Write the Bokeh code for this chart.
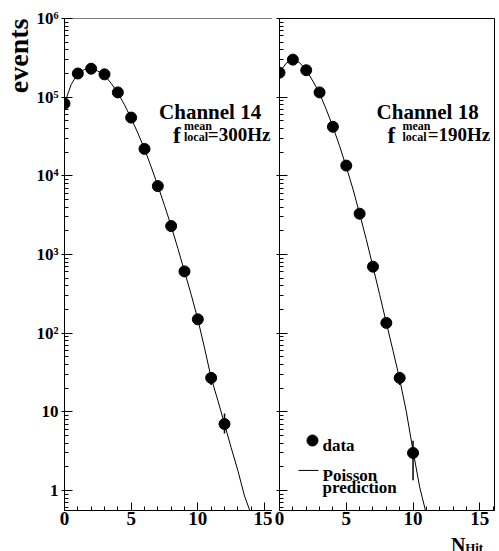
import math
from bokeh.plotting import figure
from bokeh.layouts import row, column
from bokeh.models import Label, FixedTicker, Span, Title
from bokeh.embed import file_html
from bokeh.resources import INLINE

FONT = "Liberation Serif"

# ---- data ----
ch14_nhit = [0, 1, 2, 3, 4, 5, 6, 7, 8, 9, 10, 11, 12]
ch14_events = [8.3e4, 2.0e5, 2.3e5, 1.95e5, 1.15e5, 5.5e4, 2.2e4, 7.4e3, 2.3e3, 610, 150, 27, 7]
ch14_err_x = [11, 12]
ch14_err_lo = [22, 5.3]
ch14_err_hi = [32, 9.5]
ch14_curve_x = [0, 0.5, 1, 1.5, 2, 2.5, 3, 3.5, 4, 4.5, 5, 5.5, 6, 6.5, 7, 7.5, 8, 8.5,
                9, 9.5, 10, 10.5, 11, 11.5, 12, 12.5, 13, 13.5, 14]
ch14_curve_y = [8.3e4, 1.45e5, 2.0e5, 2.25e5, 2.3e5, 2.15e5, 1.9e5, 1.5e5, 1.13e5, 8.0e4,
                5.4e4, 3.5e4, 2.2e4, 1.3e4, 7.5e3, 4.2e3, 2.3e3, 1.2e3, 610, 310, 150, 65,
                27, 14, 7, 3.5, 1.8, 0.85, 0.5]

ch18_nhit = [0, 1, 2, 3, 4, 5, 6, 7, 8, 9, 10]
ch18_events = [2.05e5, 3.0e5, 2.2e5, 1.15e5, 4.2e4, 1.35e4, 3.3e3, 700, 135, 27, 3]
ch18_err_x = [9, 10]
ch18_err_lo = [22, 1.35]
ch18_err_hi = [32, 4.3]
ch18_curve_x = [0, 0.5, 1, 1.5, 2, 2.5, 3, 3.5, 4, 4.5, 5, 5.5, 6, 6.5, 7, 7.5, 8, 8.5,
                9, 9.5, 10, 10.5, 11]
ch18_curve_y = [2.05e5, 2.7e5, 3.0e5, 2.75e5, 2.2e5, 1.6e5, 1.12e5, 7.0e4, 4.2e4, 2.4e4,
                1.3e4, 6.8e3, 3.3e3, 1.55e3, 700, 310, 135, 60, 26, 10, 3.2, 1.1, 0.5]

x_ticks = [0, 5, 10, 15]
y_ticks = [1, 10, 100, 1e3, 1e4, 1e5, 1e6]
y_tick_labels = ["1", "10", "10\u00b2", "10\u00b3", "10\u2074", "10\u2075", "10\u2076"]

Y_RANGE = (0.557, 1e6)
minor_y = [k * 10.0 ** e for e in range(-1, 6) for k in range(2, 10)]
minor_y = [v for v in minor_y if Y_RANGE[0] < v < Y_RANGE[1]]


def style_axes(p, show_y_labels):
    p.grid.visible = False
    p.background_fill_color = "white"
    p.border_fill_color = "white"
    for ax in (p.xaxis[0], p.yaxis[0]):
        ax.axis_line_color = "black"
        ax.axis_line_width = 1
        ax.major_tick_line_color = "black"
        ax.minor_tick_line_color = "black"
        ax.major_tick_out = 3
        ax.major_tick_in = 8
        ax.minor_tick_out = 0
        ax.minor_tick_in = 4
    p.xaxis.ticker = FixedTicker(ticks=x_ticks, minor_ticks=list(range(0, 17)))
    p.xaxis.major_tick_out = 0
    p.xaxis.major_label_text_font = FONT
    p.xaxis.major_label_text_font_style = "bold"
    p.xaxis.major_label_text_font_size = "19px"
    p.xaxis.major_label_text_color = "black"
    p.xaxis.major_label_standoff = 1
    p.yaxis.ticker = FixedTicker(ticks=y_ticks, minor_ticks=minor_y)
    if show_y_labels:
        p.yaxis.major_label_overrides = {float(t): s for t, s in zip(y_ticks, y_tick_labels)}
        p.yaxis.major_label_text_font = FONT
        p.yaxis.major_label_text_font_style = "bold"
        p.yaxis.major_label_text_font_size = "17px"
        p.yaxis.major_label_text_color = "black"
        p.yaxis.major_label_standoff = 3
    else:
        p.yaxis.major_label_text_font_size = "1px"
        p.yaxis.major_label_text_color = None
        p.yaxis.major_label_standoff = 0


def draw_panel(p, xs, ys, ex, elo, ehi, cx, cy):
    p.line(cx, cy, line_color="black", line_width=1)
    p.segment(x0=ex, y0=elo, x1=ex, y1=ehi, line_color="black", line_width=1.5)
    p.scatter(xs, ys, size=11, marker="circle", fill_color="black", line_color="black")


def lab(p, x, y, text, size, align="left", baseline="alphabetic", **kw):
    p.add_layout(Label(x=x, y=y, text=text, text_font=FONT, text_font_style="bold",
                       text_font_size=size, text_color="black", text_align=align,
                       text_baseline=baseline, **kw))


# ---- left panel: Channel 14 ----
p1 = figure(width=272, height=551, x_range=(0, 15.6), y_range=Y_RANGE, y_axis_type="log",
            output_backend="svg", toolbar_location=None,
            min_border_left=63, min_border_right=0, min_border_top=18, min_border_bottom=41)
p1.outline_line_color = None
style_axes(p1, True)
p1.add_layout(Span(location=1e6, dimension="width", line_color="black", line_width=1))
p1.add_layout(Title(text="events", align="right", text_font=FONT, text_font_style="bold",
                    text_font_size="28px", text_color="black", standoff=0), "left")
draw_panel(p1, ch14_nhit, ch14_events, ch14_err_x, ch14_err_lo, ch14_err_hi,
           ch14_curve_x, ch14_curve_y)

lab(p1, 7.09, 6.4e4, "Channel 14", "21px")
lab(p1, 8.13, 3.26e4, "f", "23px")
lab(p1, 8.96, 4.25e4, "mean", "12px")
lab(p1, 8.96, 3.16e4, "local", "12px")
lab(p1, 10.75, 3.36e4, "=300Hz", "19px")

# ---- right panel: Channel 18 ----
p2 = figure(width=227, height=533, x_range=(0, 16.1), y_range=Y_RANGE, y_axis_type="log",
            output_backend="svg", toolbar_location=None,
            min_border_left=7, min_border_right=5, min_border_top=18, min_border_bottom=23)
p2.outline_line_color = "black"
p2.outline_line_width = 1
style_axes(p2, False)
draw_panel(p2, ch18_nhit, ch18_events, ch18_err_x, ch18_err_lo, ch18_err_hi,
           ch18_curve_x, ch18_curve_y)

lab(p2, 7.27, 6.4e4, "Channel 18", "21px")
lab(p2, 8.09, 3.26e4, "f", "23px")
lab(p2, 9.21, 4.25e4, "mean", "12px")
lab(p2, 9.21, 3.16e4, "local", "12px")
lab(p2, 11.1, 3.36e4, "=190Hz", "19px")

# legend
p2.scatter([2.47], [4.32], size=11, marker="circle", fill_color="black", line_color="black")
lab(p2, 3.22, 3.73, "data", "17px")
p2.line([1.42, 2.92], [1.8, 1.8], line_color="black", line_width=1)
lab(p2, 3.22, 1.55, "Poisson", "17px")
lab(p2, 3.22, 1.09, "prediction", "17px")

# ---- strip below the right panel holding the axis title N_Hit ----
p3 = figure(width=227, height=18, x_range=(0, 227), y_range=(0, 18),
            title_location=None, output_backend="svg", toolbar_location=None,
            x_axis_location=None, y_axis_location=None,
            min_border_left=0, min_border_right=0, min_border_top=0, min_border_bottom=0)
p3.grid.visible = False
p3.outline_line_color = None
p3.background_fill_color = "white"
p3.border_fill_color = "white"
lab(p3, 181, 18, "N", "20px", baseline="top")
lab(p3, 196, 18, "Hit", "13px", baseline="top", y_offset=-6)

layout = row(p1, column(p2, p3))
open("out.html", "w").write(file_html(layout, INLINE))
